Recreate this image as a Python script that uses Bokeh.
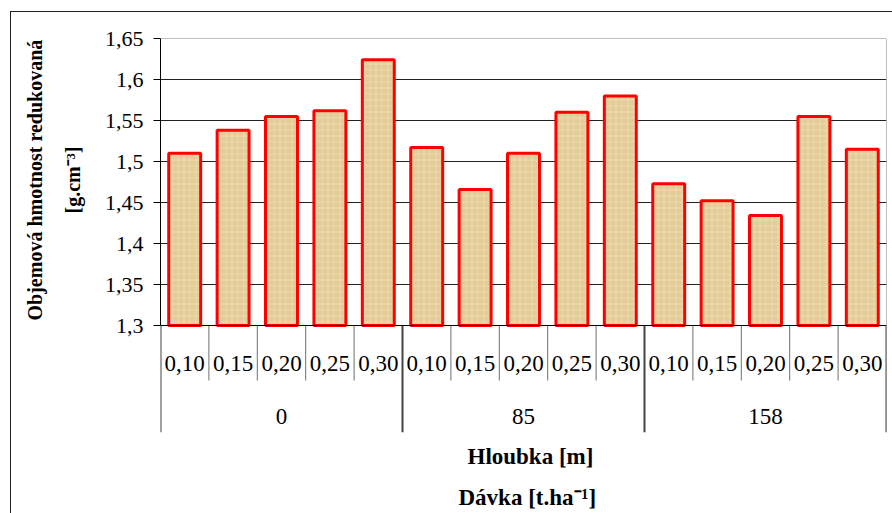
from bokeh.plotting import figure
from bokeh.models import Range1d, FixedTicker, Span, Title
from bokeh.core.properties import value
from bokeh.embed import file_html
from bokeh.resources import INLINE

# --- data -------------------------------------------------------------
DOSES = ["0", "85", "158"]                       # Dávka [t.ha-1]
DEPTHS = ["0,10", "0,15", "0,20", "0,25", "0,30"]  # Hloubka [m]
DENSITY_0 = [1.510, 1.538, 1.555, 1.562, 1.624]
DENSITY_85 = [1.517, 1.466, 1.510, 1.560, 1.580]
DENSITY_158 = [1.473, 1.452, 1.434, 1.555, 1.515]
Y_TICKS = [1.3, 1.35, 1.4, 1.45, 1.5, 1.55, 1.6, 1.65]
Y_TICK_LABELS = ["1,3", "1,35", "1,4", "1,45", "1,5", "1,55", "1,6", "1,65"]

groups = [DENSITY_0, DENSITY_85, DENSITY_158]
values = [v for g in groups for v in g]
n = len(values)
idx = list(range(n))
depth_labels = DEPTHS * len(DOSES)
gsize = len(DEPTHS)
group_centers = [g * gsize + (gsize - 1) / 2 for g in range(len(DOSES))]
all_bounds = [i - 0.5 for i in range(n + 1)]
group_bounds = [b for k, b in enumerate(all_bounds) if k % gsize == 0]
sub_bounds = [b for k, b in enumerate(all_bounds) if k % gsize != 0]

# --- page geometry (pixels) --------------------------------------------
W, H = 892, 513
FRAME_L, FRAME_R, FRAME_T, FRAME_B = 160, 886, 38, 432
BASE_PX = 325        # where the value axis starts
ROW_PX = 380         # split between depth row and dose row
DEPTH_TEXT_PX = 363  # vertical centre of the depth labels
DOSE_TEXT_PX = 416   # vertical centre of the dose labels
FRAME_H = FRAME_B - FRAME_T

y0, y1 = Y_TICKS[0], Y_TICKS[-1]
y_lo = y0 - (FRAME_B - BASE_PX) * (y1 - y0) / (BASE_PX - FRAME_T)

p = figure(
    width=W, height=H,
    x_range=Range1d(-0.5, n - 0.5),
    y_range=Range1d(y_lo, y1),
    x_axis_type=None,
    output_backend="svg", toolbar_location=None,
    min_border_left=FRAME_L, min_border_right=W - FRAME_R,
    min_border_top=FRAME_T, min_border_bottom=H - FRAME_B,
    border_fill_color=None, background_fill_color="white",
    outline_line_color=None,
)
p.styles = {"box-shadow": "inset 10px 11px 0 0 #ffffff, inset 11px 12px 0 0 #222222"}
# pixel-based range for the category table below the bars (0 = frame bottom)
p.extra_y_ranges = {"cat": Range1d(0, FRAME_H)}

SERIF = "'Liberation Serif', 'Times New Roman', serif"

# value axis
ax = p.yaxis[0]
ax.ticker = FixedTicker(ticks=Y_TICKS)
ax.bounds = (y0, y1)
ax.major_label_overrides = dict(zip(Y_TICKS, Y_TICK_LABELS))
ax.major_label_text_font = SERIF
ax.major_label_text_font_size = "22px"
ax.major_label_text_color = "black"
ax.major_label_standoff = 10
ax.major_tick_out = 7
ax.major_tick_in = 0
ax.minor_tick_out = 0
ax.minor_tick_in = 0
ax.major_tick_line_color = "black"
ax.axis_line_color = "black"

# value-axis title, two lines set beside the tick labels
p.add_layout(Title(text="[g.cm\u207b\u00b3]", align="left", vertical_align="top",
                   offset=219, standoff=32, text_font=SERIF,
                   text_font_style="bold", text_font_size="20px",
                   text_color="black"), "left")
p.add_layout(Title(text="Objemová hmotnost redukovaná", align="left",
                   vertical_align="bottom", offset=112, standoff=0,
                   text_font=SERIF, text_font_style="bold",
                   text_font_size="20px", text_color="black"), "left")

p.ygrid.ticker = FixedTicker(ticks=Y_TICKS[1:-1])
p.ygrid.grid_line_color = "#222222"
p.ygrid.grid_line_width = 1

# bars
p.vbar(
    x=idx, top=values, bottom=y0, width=0.66,
    fill_color="#E4CC98", line_color="#FF0000", line_width=3,
    hatch_pattern="cross", hatch_scale=6, hatch_color="#F3E6C4",
    hatch_alpha=0.5, hatch_weight=1,
)

# plot-area edges
p.add_layout(Span(location=y1, dimension="width", line_color="#808080", line_width=1))
p.add_layout(Span(location=n - 0.5, dimension="height", line_color="#808080", line_width=1))
p.add_layout(Span(location=y0, dimension="width", line_color="black", line_width=1))

# category table under the bars
row_top = FRAME_B - BASE_PX
row_mid = FRAME_B - ROW_PX
p.segment(x0=sub_bounds, x1=sub_bounds, y0=[row_mid] * len(sub_bounds),
          y1=[row_top] * len(sub_bounds), y_range_name="cat",
          line_color="#6e6e6e", line_width=1)
p.segment(x0=group_bounds, x1=group_bounds, y0=[0] * len(group_bounds),
          y1=[row_top] * len(group_bounds), y_range_name="cat",
          line_color="#444444", line_width=2)
p.text(x=idx, y=[FRAME_B - DEPTH_TEXT_PX] * n, text=depth_labels, y_range_name="cat",
       text_font=value(SERIF), text_font_size="23px", text_color="black",
       text_align="center", text_baseline="middle")
p.text(x=group_centers, y=[FRAME_B - DOSE_TEXT_PX] * len(DOSES), text=DOSES,
       y_range_name="cat",
       text_font=value(SERIF), text_font_size="23px", text_color="black",
       text_align="center", text_baseline="middle")

# axis titles under the table
p.add_layout(Title(text="Hloubka [m]", align="left", vertical_align="top",
                   offset=307, standoff=23, text_font=SERIF,
                   text_font_style="bold", text_font_size="23px",
                   text_color="black"), "below")
p.add_layout(Title(text="Dávka [t.ha\u207b\u00b9]", align="left",
                   vertical_align="bottom", offset=298, standoff=0,
                   text_font=SERIF, text_font_style="bold",
                   text_font_size="23px", text_color="black"), "below")

open("out.html", "w").write(file_html(p, INLINE))
